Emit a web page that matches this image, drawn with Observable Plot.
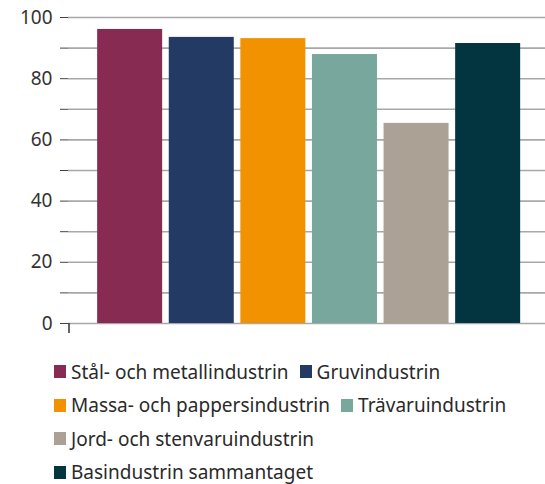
<!DOCTYPE html>
<html>
<head>
<meta charset="utf-8">
<script src="https://cdn.jsdelivr.net/npm/d3@7"></script>
<script src="https://cdn.jsdelivr.net/npm/@observablehq/plot@0.6"></script>
<style>
  body { margin: 0; background: #fff; font-family: "Noto Sans", sans-serif; }
  #chart svg { display: block; }
  #legend { padding: 15px 0 0 54px; width: 491px; box-sizing: content-box; color: #2a2a2a; font-size: 19px; }
  .row { display: flex; height: 33.5px; align-items: center; }
  .item { display: flex; align-items: center; margin-right: 11px; white-space: nowrap; }
  .sw { width: 12px; height: 13px; margin-right: 5px; }
</style>
</head>
<body>
<div id="chart"></div>
<div id="legend"></div>
<script>
const categories = [
  "Stål- och metallindustrin",
  "Gruvindustrin",
  "Massa- och pappersindustrin",
  "Trävaruindustrin",
  "Jord- och stenvaruindustrin",
  "Basindustrin sammantaget"
];
const values = [96.1, 93.5, 93.1, 87.9, 65.4, 91.5];
const colors = ["#872B52", "#233A64", "#F39200", "#78A89D", "#ABA195", "#023540"];
const yTicks = [0, 10, 20, 30, 40, 50, 60, 70, 80, 90, 100];
const legendRows = [[0, 1], [2, 3], [4], [5]];

const data = categories.map((c, i) => ({category: c, value: values[i]}));

const chart = Plot.plot({
  width: 545,
  height: 340,
  marginLeft: 68,
  marginRight: 0,
  marginTop: 17,
  marginBottom: 17,
  style: {fontFamily: "'Noto Sans', sans-serif", fontSize: "19px", color: "#333", background: "#fff"},
  x: {domain: categories, paddingInner: 0.092, paddingOuter: 0.377, align: 0.54, round: false, axis: null},
  y: {domain: [0, 100], label: null},
  color: {domain: categories, range: colors},
  marks: [
    Plot.gridY(yTicks, {stroke: "#a8a8a8", strokeOpacity: 1, strokeWidth: 1.6}),
    Plot.barY(data, {x: "category", y: "value", fill: "category"}),
    Plot.axisY(yTicks, {
      tickSize: 8, tickPadding: 8, stroke: "#444", label: null,
      tickFormat: d => d % 20 === 0 ? String(d) : "",
      fill: "#333", fontSize: 19
    }),
    (index, scales, values, dims) => {
      const x0 = dims.marginLeft + 1;
      const y0 = dims.height - dims.marginBottom;
      const line = document.createElementNS("http://www.w3.org/2000/svg", "line");
      line.setAttribute("x1", x0); line.setAttribute("x2", x0);
      line.setAttribute("y1", y0); line.setAttribute("y2", y0 + 10);
      line.setAttribute("stroke", "#333"); line.setAttribute("stroke-width", 1.5);
      return line;
    }
  ]
});
document.getElementById("chart").appendChild(chart);

const legend = document.getElementById("legend");
legendRows.forEach(r => {
  const row = document.createElement("div");
  row.className = "row";
  r.forEach(i => {
    const item = document.createElement("div");
    item.className = "item";
    const sw = document.createElement("div");
    sw.className = "sw";
    sw.style.background = colors[i];
    const t = document.createElement("span");
    t.textContent = categories[i];
    item.appendChild(sw); item.appendChild(t);
    row.appendChild(item);
  });
  legend.appendChild(row);
});
</script>
</body>
</html>
